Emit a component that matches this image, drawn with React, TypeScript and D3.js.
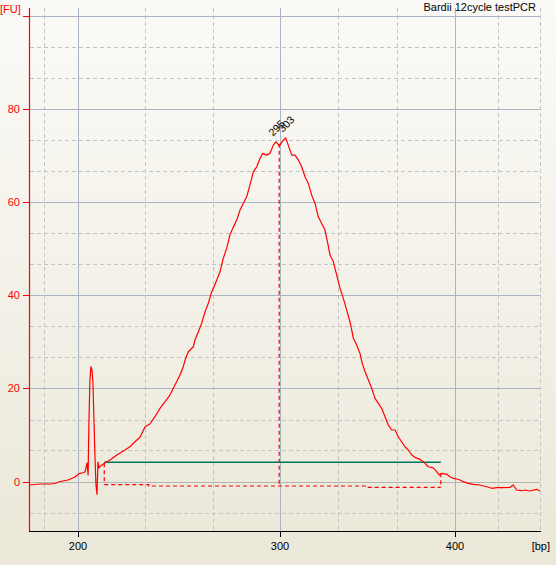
import React from "react";
import * as d3 from "d3";

// ---- data (bp, FU) ----
const traceBp = [152.9,162.7,172.5,177.5,182.4,190.2,197.1,200,201,202.5,203.5,204.5,205,205.4,205.9,206.4,206.9,207.4,207.9,208.4,208.9,209.4,209.9,210.4,210.9,211.9,212.9,214.4,215.9,219.2,223.3,225.7,228.2,230.7,233.2,235.6,238.1,240.6,243.1,245.5,248.0,250.5,252.1,253.0,254.6,257.1,257.9,259.6,261.2,262.9,264.5,266.2,267.5,270.3,271.9,273.6,275.2,276.6,278.6,280.2,281.8,283.5,285.1,286.8,288.5,290.1,291.4,293.4,295.0,296.7,298.0,299.7,301.9,303.3,304.7,306.7,308.6,310.5,312.4,314.3,316.2,318.1,320.0,321.9,323.8,325.7,327.3,328.6,330.5,332.4,334.3,336.2,338.1,340.0,341.0,341.9,343.8,345.7,347.0,348.6,350.5,352.4,354.3,356.2,358.1,360.0,361.9,363.8,365.7,367.6,369.5,371.4,373.3,375.3,377.1,380.0,382.9,384.7,387.6,389.5,391.0,392.4,395.3,397.1,399.0,401.3,403.9,406.5,410.4,414.3,419.5,424.8,428.7,432.6,437.7,443.0,445.5,448.2,452.1,454.7,458.6,463.8,466.4];
const traceFu = [-0.75,-0.54,-0.54,-0.43,0,0.32,0.97,1.5,1.76,1.89,2.1,3.98,1.4,12.6,21.8,24.7,24.0,21.2,13.2,5.33,-0.75,-2.75,4.19,2.9,3.22,3.55,3.87,4.3,4.62,5.7,6.77,7.48,8.55,9.5,11.78,12.36,13.93,15.73,17.15,18.59,20.74,22.89,24.67,26.11,27.9,28.97,30.41,32.19,34.0,36.49,38.3,40.79,42.02,45.09,47.97,50.12,52.98,54.42,56.2,58.35,59.79,61.21,63.72,66.58,67.66,69.46,70.54,70.17,70.54,72.32,73.03,72.17,73.39,73.89,72.32,70.17,70.17,69.1,67.66,65.51,64.09,61.57,59.79,56.91,55.49,54.05,51.19,48.68,47.24,44.38,41.52,39.37,36.86,34.34,32.56,30.78,29.34,27.55,25.4,23.6,21.81,20.03,17.88,16.81,15.73,13.93,12.14,11.07,11.07,9.63,8.55,7.48,6.77,5.7,5.2,4.77,3.91,3.18,2.94,2.11,1.4,1.76,1.55,1.03,0.69,0.54,0.32,-0.04,-0.39,-0.6,-0.75,-1.12,-1.46,-1.33,-1.33,-1.25,-0.75,-1.83,-1.98,-1.83,-2.04,-1.68,-2.04];

const peakLabels = ["295", "303"];
const peakBp = [298.0, 303.3];
const peakFu = [73.03, 73.89];
const markerBp = 299.6;
const markerFu = 72.6;

const regionStartBp = 213.0;
const regionEndBp = 391.9;
const regionLevelFu = 4.13;
const regionStartFu = 3.9;
const regionEndFu = 1.76;
const baselineBp = [213.0, 235.0, 235.0, 350.0, 350.0, 391.9];
const baselineFu = [-0.69, -0.69, -0.97, -0.97, -1.25, -1.25];

const xMajorTicks = [200, 300, 400];
const xMinorTicks = [166.67, 233.33, 266.67, 333.33, 366.67, 433.33, 466.67];
const yMajorTicks = [0, 20, 40, 60, 80, 100];
const yLabeled = [0, 20, 40, 60, 80];
const yMinorTicks = [-6.67, 6.67, 13.33, 26.67, 33.33, 46.67, 53.33, 66.67, 73.33, 86.67, 93.33];

const title = "Bardii 12cycle testPCR";

// ---- layout ----
const W = 556, H = 565;
const left = 30, right = 540, top = 8, bottom = 531;
const ladderBp = [150, 200, 300, 400, 500];
const ladderPx = [27, 78, 280, 455, 583];

export default function App() {
  const x = d3.scaleLinear().domain(ladderBp).range(ladderPx);
  const y = d3.scaleLinear().domain([-10.64, 101.8]).range([bottom, top]);
  const font = "'Liberation Sans', Arial, sans-serif";

  const pts: [number, number][] = traceBp.map((b, i) => [b, traceFu[i]]);
  const line = d3.line<[number, number]>().x(d => x(d[0])).y(d => y(d[1]));
  const basePts: [number, number][] = baselineBp.map((b, i) => [b, baselineFu[i]]);

  return (
    <svg width={W} height={H} style={{ position: "fixed", left: 0, top: 0, display: "block" }}>
      <defs>
        <linearGradient id="bg" x1="0" y1="0" x2="0" y2="1">
          <stop offset="0" stopColor="#fbfaf7" />
          <stop offset="1" stopColor="#ebe8d9" />
        </linearGradient>
        <clipPath id="plot">
          <rect x={left} y={top} width={right - left + 1} height={bottom - top} />
        </clipPath>
      </defs>
      <rect x={0} y={0} width={W} height={H} fill="url(#bg)" />

      {/* grid */}
      {xMinorTicks.map(t => (
        <line key={"xm" + t} x1={Math.round(x(t)) + 0.5} x2={Math.round(x(t)) + 0.5} y1={top} y2={bottom}
          stroke="#c4c4c4" strokeDasharray="4,3" />
      ))}
      {yMinorTicks.map(t => (
        <line key={"ym" + t} x1={left} x2={right} y1={Math.round(y(t)) + 0.5} y2={Math.round(y(t)) + 0.5}
          stroke="#c4c4c4" strokeDasharray="4,3" />
      ))}
      {xMajorTicks.map(t => (
        <line key={"xM" + t} x1={Math.round(x(t)) + 0.5} x2={Math.round(x(t)) + 0.5} y1={top} y2={bottom}
          stroke="#aab3c6" />
      ))}
      {yMajorTicks.map(t => (
        <line key={"yM" + t} x1={left} x2={right} y1={Math.round(y(t)) + 0.5} y2={Math.round(y(t)) + 0.5}
          stroke={t === 0 ? "#b4b4b4" : "#aab3c6"} />
      ))}

      <g clipPath="url(#plot)">
        {/* region */}
        <line x1={x(regionStartBp)} x2={x(regionEndBp)} y1={y(regionLevelFu)} y2={y(regionLevelFu)}
          stroke="#00775a" strokeWidth={1.5} />
        <path d={line(basePts) || ""} fill="none" stroke="#ff0000" strokeWidth={1.2} strokeDasharray="4,3" />
        <line x1={x(regionStartBp)} x2={x(regionStartBp)} y1={y(regionStartFu)} y2={y(baselineFu[0])}
          stroke="#ff0000" strokeWidth={1.2} strokeDasharray="4,3" />
        <line x1={x(regionEndBp)} x2={x(regionEndBp)} y1={y(regionEndFu)} y2={y(baselineFu[baselineFu.length - 1])}
          stroke="#ff0000" strokeWidth={1.2} strokeDasharray="4,3" />
        <line x1={x(markerBp)} x2={x(markerBp)} y1={y(markerFu)} y2={y(-1.0)}
          stroke="#ff0000" strokeWidth={1.2} strokeDasharray="4,3" />
        {/* trace */}
        <path d={line(pts) || ""} fill="none" stroke="#ff0000" strokeWidth={1.2} strokeLinejoin="round" />
      </g>

      {/* peak labels */}
      {peakLabels.map((lab, i) => {
        const px = x(peakBp[i]) - 3, py = y(peakFu[i]) - 5;
        return (
          <text key={lab} x={px} y={py} transform={`rotate(-45 ${px} ${py})`} fontFamily={font} fontSize={10.5}
            fill="#000">{lab}</text>
        );
      })}

      {/* axes */}
      <line x1={left - 0.5} x2={left - 0.5} y1={top} y2={bottom} stroke="#ff0000" strokeWidth={1.2} />
      {yMajorTicks.map(t => (
        <line key={"yt" + t} x1={23} x2={left} y1={Math.round(y(t)) + 0.5} y2={Math.round(y(t)) + 0.5} stroke="#ff0000" />
      ))}
      {yLabeled.map(t => (
        <text key={"yl" + t} x={20} y={y(t) + 4} textAnchor="end" fontFamily={font} fontSize={11} fill="#ff0000">{t}</text>
      ))}
      <text x={0} y={13} fontFamily={font} fontSize={11} fill="#ff0000">[FU]</text>

      <line x1={left - 1} x2={right + 1} y1={bottom + 0.5} y2={bottom + 0.5} stroke="#000" strokeWidth={1.2} />
      {xMajorTicks.map(t => (
        <line key={"xt" + t} x1={Math.round(x(t)) + 0.5} x2={Math.round(x(t)) + 0.5} y1={bottom} y2={bottom + 6} stroke="#000" />
      ))}
      {xMajorTicks.map(t => (
        <text key={"xl" + t} x={x(t)} y={550} textAnchor="middle" fontFamily={font} fontSize={11} fill="#000">{t}</text>
      ))}
      <text x={550} y={550} textAnchor="end" fontFamily={font} fontSize={11} fill="#000">[bp]</text>

      <text x={536} y={11} textAnchor="end" fontFamily={font} fontSize={11} fill="#000">{title}</text>
    </svg>
  );
}
